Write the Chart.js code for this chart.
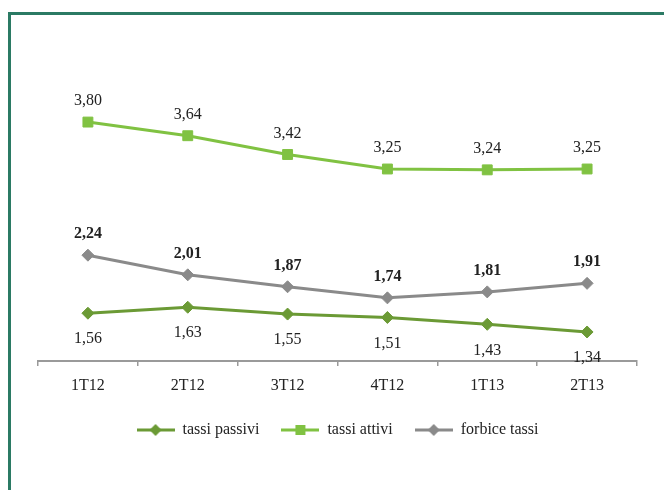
<!DOCTYPE html>
<html>
<head>
<meta charset="utf-8">
<script src="https://cdn.jsdelivr.net/npm/chart.js@4"></script>
<style>
  html, body { margin: 0; padding: 0; background: #fff; }
  #frame {
    position: absolute; left: 8px; top: 12px; width: 700px; height: 500px;
    border-left: 3px solid #2b7a64; border-top: 3px solid #2b7a64;
  }
  #wrap { position: absolute; left: 0; top: 0; width: 664px; height: 490px; }
</style>
</head>
<body>
<div id="frame"></div>
<div id="wrap"><canvas id="chart" width="664" height="490"></canvas></div>
<script>
// data
const periods = ['1T12', '2T12', '3T12', '4T12', '1T13', '2T13'];
const tassiPassivi = [1.56, 1.63, 1.55, 1.51, 1.43, 1.34];
const tassiAttivi = [3.80, 3.64, 3.42, 3.25, 3.24, 3.25];
const forbiceTassi = [2.24, 2.01, 1.87, 1.74, 1.81, 1.91];

const serif = "'Liberation Serif', 'Times New Roman', serif";
const textColor = '#222';

const colPassivi = '#6b9a35';
const colAttivi = '#80c242';
const colForbice = '#8a8a8a';

// legend sample: short line with the marker in the middle
function legendSample(color, shape) {
    const c = document.createElement('canvas');
    c.width = 38; c.height = 14;
    const g = c.getContext('2d');
    g.strokeStyle = color;
    g.lineWidth = 3;
    g.beginPath(); g.moveTo(0, 7); g.lineTo(38, 7); g.stroke();
    g.fillStyle = color;
    g.beginPath();
    if (shape === 'rect') {
        g.rect(14, 2, 10, 10);
    } else {
        g.moveTo(19, 1); g.lineTo(25, 7); g.lineTo(19, 13); g.lineTo(13, 7); g.closePath();
    }
    g.fill();
    return c;
}

// value labels, comma decimal
const valueLabels = {
    id: 'valueLabels',
    afterDatasetsDraw(chart) {
        const ctx = chart.ctx;
        ctx.save();
        ctx.textAlign = 'center';
        ctx.textBaseline = 'middle';
        ctx.fillStyle = textColor;
        chart.data.datasets.forEach((ds, i) => {
            const meta = chart.getDatasetMeta(i);
            ctx.font = (ds.labelBold ? 'bold ' : '') + '16px ' + serif;
            meta.data.forEach((pt, j) => {
                const txt = ds.data[j].toFixed(2).replace('.', ',');
                ctx.fillText(txt, pt.x, pt.y + ds.labelOffset);
            });
        });
        ctx.restore();
    }
};

const ctx = document.getElementById('chart').getContext('2d');
new Chart(ctx, {
    type: 'line',
    data: {
        labels: periods,
        datasets: [
            {
                label: 'tassi passivi',
                data: tassiPassivi,
                borderColor: colPassivi,
                backgroundColor: colPassivi,
                borderWidth: 3,
                pointStyle: 'rectRot',
                pointRadius: 6,
                pointBorderWidth: 1,
                labelOffset: 26,
                sample: legendSample(colPassivi, 'diamond')
            },
            {
                label: 'tassi attivi',
                data: tassiAttivi,
                borderColor: colAttivi,
                backgroundColor: colAttivi,
                borderWidth: 3,
                pointStyle: 'rect',
                pointRadius: 7,
                pointBorderWidth: 1,
                labelOffset: -21,
                sample: legendSample(colAttivi, 'rect')
            },
            {
                label: 'forbice tassi',
                data: forbiceTassi,
                borderColor: colForbice,
                backgroundColor: colForbice,
                borderWidth: 3,
                pointStyle: 'rectRot',
                pointRadius: 6,
                pointBorderWidth: 1,
                labelOffset: -21,
                labelBold: true,
                sample: legendSample(colForbice, 'diamond')
            }
        ]
    },
    options: {
        responsive: false,
        animation: false,
        layout: { padding: { top: 105, left: 38, right: 27, bottom: 42 } },
        elements: { line: { tension: 0 } },
        scales: {
            y: { display: false, min: 1, max: 4 },
            x: {
                offset: true,
                grid: { offset: true, drawOnChartArea: false, tickLength: 5, color: '#9a9a9a', lineWidth: 1.5 },
                border: { color: '#9a9a9a', width: 2 },
                ticks: { color: textColor, font: { family: serif, size: 16 }, padding: 10 },
                afterFit(scale) { scale.height = 39; }
            }
        },
        plugins: {
            tooltip: { enabled: false },
            legend: {
                position: 'bottom',
                labels: {
                    usePointStyle: true,
                    pointStyleWidth: 38,
                    padding: 22,
                    color: textColor,
                    font: { family: serif, size: 16 },
                    generateLabels(chart) {
                        return chart.data.datasets.map((ds, i) => ({
                            text: ds.label,
                            pointStyle: ds.sample,
                            fillStyle: ds.borderColor,
                            strokeStyle: ds.borderColor,
                            lineWidth: 0,
                            fontColor: textColor,
                            datasetIndex: i
                        }));
                    }
                }
            }
        }
    },
    plugins: [valueLabels]
});
</script>
</body>
</html>
